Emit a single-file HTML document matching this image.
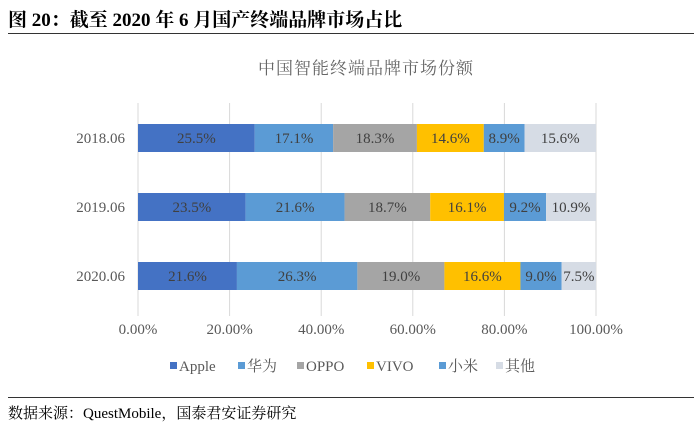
<!DOCTYPE html>
<html><head><meta charset="utf-8"><style>
body{margin:0;background:#fff;width:700px;height:428px;overflow:hidden;font-family:"Liberation Serif","Noto Serif CJK SC",serif;}
</style></head><body>
<svg width="700" height="428">
<text x="8" y="26" font-size="19" font-weight="bold" fill="#000" font-family="Liberation Serif, Noto Serif CJK SC, serif">图 20：截至 2020 年 6 月国产终端品牌市场占比</text>
<line x1="8" y1="33.5" x2="694" y2="33.5" stroke="#333" stroke-width="1"/>
<text x="366" y="74" font-size="17" fill="#666" text-anchor="middle" letter-spacing="1">中国智能终端品牌市场份额</text>
<g id="grid"></g>
<g id="bars"></g>
<g id="ylabels"></g>
<g id="xlabels"></g>
<g id="legend"></g>
<line x1="8" y1="397.5" x2="694" y2="397.5" stroke="#333" stroke-width="1"/>
<text x="8" y="418" font-size="15" fill="#000">数据来源：QuestMobile，国泰君安证券研究</text>
</svg>
<script>
const categories=["2018.06","2019.06","2020.06"];
const series=["Apple","华为","OPPO","VIVO","小米","其他"];
const apple=[25.5,23.5,21.6];
const huawei=[17.1,21.6,26.3];
const oppo=[18.3,18.7,19.0];
const vivo=[14.6,16.1,16.6];
const xiaomi=[8.9,9.2,9.0];
const others=[15.6,10.9,7.5];
const xTicks=[0,20,40,60,80,100];
const values=[apple,huawei,oppo,vivo,xiaomi,others];
const colors=["#4472c4","#5b9bd5","#a5a5a5","#ffc000","#5b9bd5","#d6dce5"];
const NS="http://www.w3.org/2000/svg";
const x0=138,x1=596,yTop=103,yBot=316;
const xs=v=>x0+(x1-x0)*v/100;
const rowY=i=>138+i*69;
const bh=28;
function mk(t,a,p){const e=document.createElementNS(NS,t);for(const k in a)e.setAttribute(k,a[k]);p.appendChild(e);return e;}
const grid=document.getElementById('grid'),bars=document.getElementById('bars'),yl=document.getElementById('ylabels'),xl=document.getElementById('xlabels'),lg=document.getElementById('legend');
xTicks.forEach(t=>{
 const l=mk('line',{x1:xs(t),x2:xs(t),y1:yTop,y2:yBot,stroke:'#d9d9d9','stroke-width':1},grid);
 
 
 const tx=mk('text',{x:xs(t),y:334,'font-size':15,fill:'#595959','text-anchor':'middle'},xl);
 tx.textContent=t.toFixed(2)+'%';
 
 
});
categories.forEach((c,i)=>{
 const yc=rowY(i);
 const t=mk('text',{x:125,y:yc+5,'font-size':15,fill:'#595959','text-anchor':'end'},yl);
 t.textContent=c;
 
 
 let acc=0;
 values.forEach((s,j)=>{
  const v=s[i];
  const r=mk('rect',{x:xs(acc),y:yc-bh/2,width:xs(acc+v)-xs(acc),height:bh,fill:colors[j]},bars);
  
  
  const lt=mk('text',{x:(xs(acc)+xs(acc+v))/2,y:yc+5,'font-size':15,fill:'#404040','text-anchor':'middle'},bars);
  lt.textContent=v.toFixed(1)+'%';
  
  
  acc+=v;
 });
});
const lx=[170,238,297,367,439,496];
series.forEach((s,j)=>{
 const r=mk('rect',{x:lx[j],y:362,width:7,height:7,fill:colors[j]},lg);
 
 
 const t=mk('text',{x:lx[j]+9,y:371,'font-size':15,fill:'#595959'},lg);
 t.textContent=s;
 
 
});
</script>
</body></html>
